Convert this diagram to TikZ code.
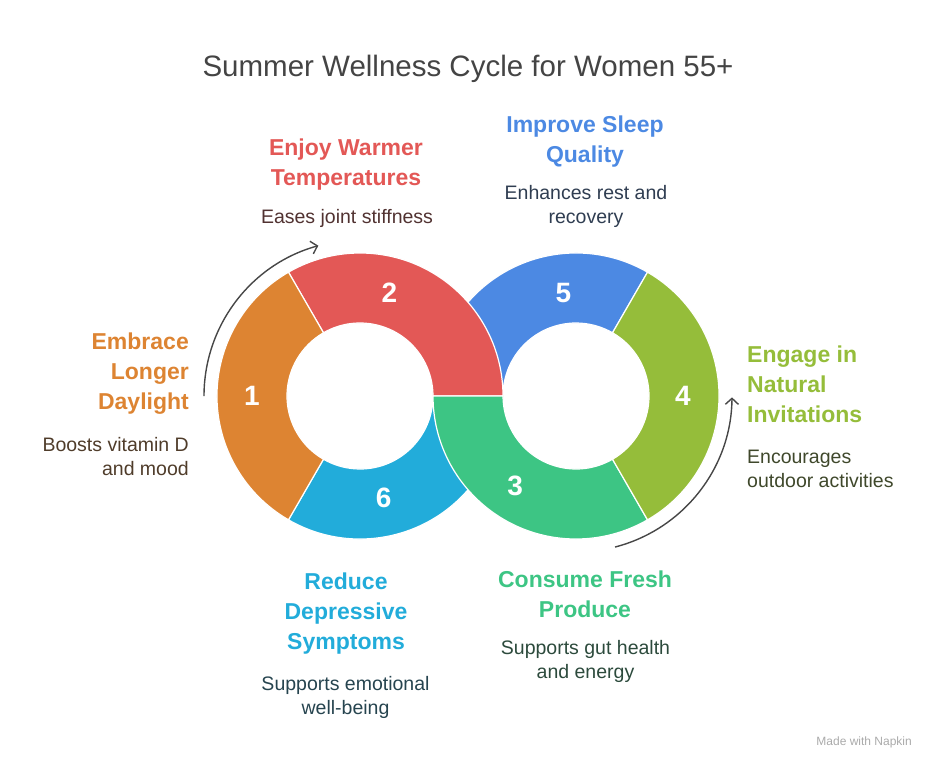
\documentclass[tikz,border=0pt]{standalone}
\usepackage{fontspec}
\setmainfont{Liberation Sans}
\usetikzlibrary{arrows.meta,positioning,calc}
\definecolor{daylight}{HTML}{DD8432}
\definecolor{warmth}{HTML}{E35856}
\definecolor{sleep}{HTML}{4C89E3}
\definecolor{nature}{HTML}{95BD3A}
\definecolor{produce}{HTML}{3DC584}
\definecolor{mood}{HTML}{22ACDA}
\definecolor{titlegray}{HTML}{444444}
\definecolor{arrowgray}{HTML}{474747}
\definecolor{markgray}{HTML}{AAAAAA}
\tikzset{
  segment/.style={fill=#1, draw=white, line width=1.2pt, line join=round},
  segnum/.style={text=white, inner sep=0pt, font=\fontsize{28}{28}\selectfont\bfseries},
  headtext/.style={text=#1, inner sep=0pt, font=\fontsize{23}{30}\selectfont\bfseries},
  desctext/.style={text=#1!25!black!88!white, inner sep=0pt, font=\fontsize{19.5}{24}\selectfont},
  cyclearr/.style={-{Straight Barb[length=6pt,width=13pt]}, line width=1.4pt, draw=arrowgray}
}
% one piece of a ring: centre, start angle, end angle, colour
\newcommand{\ringseg}[4]{%
  \path[segment=#4] ($(#1)+(#2:143pt)$) arc[start angle=#2, end angle=#3, radius=143pt]
    -- ($(#1)+(#3:73pt)$) arc[start angle=#3, end angle=#2, radius=73pt] -- cycle;}

\begin{document}
\begin{tikzpicture}[x=1pt, y=1pt]
  \useasboundingbox (0,0) rectangle (936,-768);
  \coordinate (lc) at (360,-396);
  \coordinate (rc) at (576,-396);

  % rings, back pieces first
  \ringseg{rc}{60}{180}{sleep}
  \ringseg{lc}{240}{360}{mood}
  \ringseg{lc}{0}{120}{warmth}
  \ringseg{rc}{180}{300}{produce}
  \ringseg{lc}{120}{240}{daylight}
  \ringseg{rc}{-60}{60}{nature}

  \node[segnum] (n1) at ($(lc)+(180:108pt)$) {1};
  \node[segnum] (n2) at ($(lc)+(74:107pt)$) {2};
  \node[segnum] (n6) at ($(lc)+(-77:105pt)$) {6};
  \node[segnum] (n5) at ($(rc)+(97:104pt)$) {5};
  \node[segnum] (n4) at ($(rc)+(0:107pt)$) {4};
  \node[segnum] (n3) at ($(rc)+(236:109pt)$) {3};

  % cycle arrows
  \draw[cyclearr] ($(lc)+(180:156pt)$) arc[start angle=180, end angle=105.5, radius=156pt];
  \draw[cyclearr] ($(rc)+(-75.5:156pt)$) arc[start angle=-75.5, end angle=-0.5, radius=156pt];

  % texts (base = baseline of the last line)
  \node[anchor=base, text=titlegray, inner sep=0pt, font=\fontsize{29.5}{30}\selectfont]
    (title) at (468,-77) {Summer Wellness Cycle for Women 55+};

  \node[headtext=warmth, align=center, anchor=base] (warmhead) at (346,-185) {Enjoy Warmer\\Temperatures};
  \node[desctext=warmth, align=center, anchor=base] (warmdesc) at (347,-223) {Eases joint stiffness};

  \node[headtext=sleep, align=center, anchor=base] (sleephead) at (585,-162) {Improve Sleep\\Quality};
  \node[desctext=sleep, align=center, anchor=base] (sleepdesc) at (586,-223) {Enhances rest and\\recovery};

  \node[headtext=daylight, align=right, anchor=base east] (dayhead) at (189,-409) {Embrace\\Longer\\Daylight};
  \node[desctext=daylight, align=right, anchor=base east] (daydesc) at (189,-475) {Boosts vitamin D\\and mood};

  \node[headtext=nature, align=left, anchor=base west] (naturehead) at (747,-422) {Engage in\\Natural\\Invitations};
  \node[desctext=nature, align=left, anchor=base west] (naturedesc) at (747,-487) {Encourages\\outdoor activities};

  \node[headtext=mood, align=center, anchor=base] (moodhead) at (346,-649) {Reduce\\Depressive\\Symptoms};
  \node[desctext=mood, align=center, anchor=base] (mooddesc) at (345.5,-714) {Supports emotional\\well-being};

  \node[headtext=produce, align=center, anchor=base] (producehead) at (585,-617) {Consume Fresh\\Produce};
  \node[desctext=produce, align=center, anchor=base] (producedesc) at (585.5,-678) {Supports gut health\\and energy};

  \node[anchor=base east, text=markgray, inner sep=0pt, font=\fontsize{12}{12}\selectfont]
    (mark) at (912,-745) {Made with Napkin};
\end{tikzpicture}
\end{document}
